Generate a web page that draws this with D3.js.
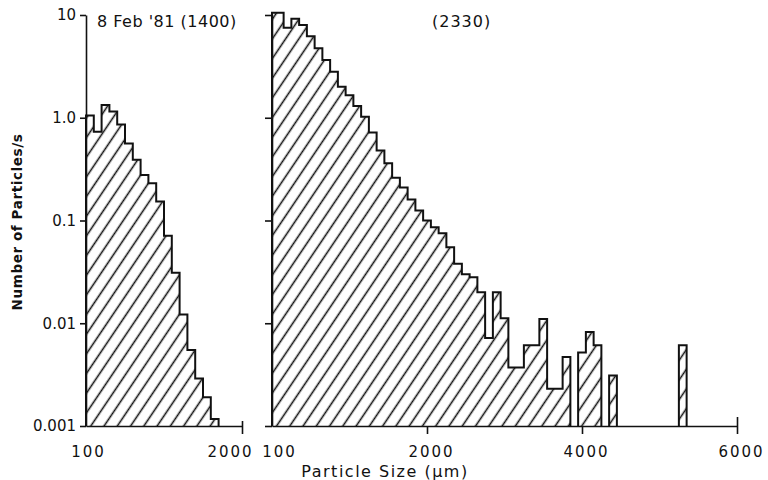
<!DOCTYPE html>
<html>
<head>
<meta charset="utf-8">
<script src="https://cdn.jsdelivr.net/npm/d3@7"></script>
<style>
body{margin:0;background:#fff}
text{font-family:"DejaVu Sans",sans-serif;fill:#111}
.axis path,.axis line{stroke:#111;stroke-width:1.6}
</style>
</head>
<body>
<div id="chart"></div>
<script>
// 8 Feb '81 (1400): bin centres (um) and counts (particles/s), 100 um bins
var leftSize  = [50,150,250,350,450,550,650,750,850,950,1050,1150,1250,1350,1450,1550,1650];
var leftCount = [1.05,0.73,1.33,1.15,0.86,0.56,0.39,0.277,0.23,0.153,0.071,0.031,0.0122,0.0055,0.0029,0.0019,0.00117];

// (2330)
var rightSize  = [100,200,300,400,500,600,700,800,900,1000,1100,1200,1300,1400,1500,1600,1700,1800,1900,2000,
                  2100,2200,2300,2400,2500,2600,2700,2800,2900,3000,3100,3200,3300,3400,3500,3600,3700,3800,3900,4000,
                  4100,4200,4300,4400,4500,4600,4700,4800,4900,5000,5100,5200,5300];
var rightCount = [10.5,7.5,9.2,8.0,6.2,4.75,3.65,2.8,2.0,1.66,1.3,1.02,0.72,0.48,0.36,0.26,0.21,0.16,0.125,0.1,
                  0.086,0.075,0.055,0.038,0.030,0.028,0.02,0.0072,0.02,0.0112,0.0037,0.0037,0.0061,0.0061,0.011,0.0023,0.0023,0.0047,0,0.0052,
                  0.0082,0.0061,0,0.0031,0,0,0,0,0,0,0,0,0.0061];

var yTicks = [10,1,0.1,0.01,0.001];
var yTickLabels = ["10","1.0","0.1","0.01","0.001"];
var leftXTicks = [0,2000], leftXLabels = ["100","2000"];
var rightXTicks = [0,2000,4000,6000], rightXLabels = ["100","2000","4000","6000"];
var binWidth = 100;

var W = 768, H = 480;
var svg = d3.select("#chart").append("svg").attr("width", W).attr("height", H);

svg.append("defs").append("pattern")
  .attr("id","hatch").attr("patternUnits","userSpaceOnUse")
  .attr("width",11).attr("height",11)
  .attr("patternTransform","rotate(34)")
  .append("line").attr("x1",5.5).attr("y1",-1).attr("x2",5.5).attr("y2",12)
  .attr("stroke","#111").attr("stroke-width",1.6);

var y = d3.scaleLog().domain([0.001,10]).range([426,15]);
var xL = d3.scaleLinear().domain([0,2000]).range([86,242]);
var xR = d3.scaleLinear().domain([0,6000]).range([272,737]);

function drawHist(x, sizes, counts) {
  var y0 = y(0.001);
  // first bin runs from the axis
  var lo = function(i){ return i === 0 ? x.domain()[0] : sizes[i]-binWidth/2; };
  var hi = function(i){ return sizes[i]+binWidth/2; };
  var runs = [], cur = null;
  counts.forEach(function(v,i){
    if (v > 0) { if (!cur) { cur = []; runs.push(cur); } cur.push(i); }
    else cur = null;
  });
  runs.forEach(function(run){
    var d = "M" + x(lo(run[0])) + "," + y0;
    run.forEach(function(i){
      d += "V" + y(counts[i]) + "H" + x(hi(i));
    });
    d += "V" + y0;
    svg.append("path").attr("d", d + "Z").attr("fill","url(#hatch)").attr("stroke","none");
    svg.append("path").attr("d", d).attr("fill","none").attr("stroke","#111")
      .attr("stroke-width",2).attr("stroke-linejoin","miter");
  });
}
drawHist(xL, leftSize, leftCount);
drawHist(xR, rightSize, rightCount);

// y axes
var gyl = svg.append("g").attr("class","axis").attr("transform","translate(86,0)")
  .call(d3.axisLeft(y).tickValues(yTicks).tickSize(6).tickSizeOuter(0)
    .tickFormat(function(d,i){ return yTickLabels[i]; }));
gyl.selectAll("text").style("font-size","15px").attr("dx",-1);
var gyr = svg.append("g").attr("class","axis").attr("transform","translate(272,0)")
  .call(d3.axisLeft(y).tickValues(yTicks).tickSize(7).tickSizeOuter(0).tickFormat(""));

// x axes
var gxl = svg.append("g").attr("class","axis").attr("transform","translate(0,426)")
  .call(d3.axisBottom(xL).tickValues(leftXTicks).tickSize(8).tickSizeOuter(0).tickPadding(12)
    .tickFormat(function(d,i){ return leftXLabels[i]; }));
gxl.selectAll(".tick line").attr("y1", function(d){ return d === 0 ? 0 : -5; })
  .attr("y2", function(d){ return d === 0 ? 0 : 8; });
gxl.selectAll("text").style("font-size","15px").style("letter-spacing","2px")
  .attr("dx", function(d,i){ return i === 1 ? -12 : 2; });

var gxr = svg.append("g").attr("class","axis").attr("transform","translate(0,426)")
  .call(d3.axisBottom(xR).tickValues(rightXTicks).tickSize(8).tickSizeOuter(0).tickPadding(12)
    .tickFormat(function(d,i){ return rightXLabels[i]; }));
gxr.selectAll(".tick line").attr("y1", function(d){ return d === 6000 ? -9 : 0; })
  .attr("y2", function(d){ return d === 0 ? 0 : 8; });
gxr.selectAll("text").style("font-size","15px").style("letter-spacing","2px")
  .attr("dx", function(d,i){ return i === 0 ? 7 : 4; });

// titles and axis labels
svg.append("text").attr("x",97).attr("y",27).style("font-size","16px").style("letter-spacing","0.5px")
  .text("8 Feb '81 (1400)");
svg.append("text").attr("x",432).attr("y",27).style("font-size","16px").style("letter-spacing","1px")
  .text("(2330)");
svg.append("text").attr("x",385).attr("y",477).attr("text-anchor","middle")
  .style("font-size","16px").style("letter-spacing","1.5px")
  .text("Particle Size (\u03bcm)");
svg.append("text").attr("transform","translate(22,222) rotate(-90)").attr("text-anchor","middle")
  .style("font-size","13.5px").style("font-weight","bold").style("letter-spacing","0.6px")
  .text("Number of Particles/s");
</script>
</body>
</html>
